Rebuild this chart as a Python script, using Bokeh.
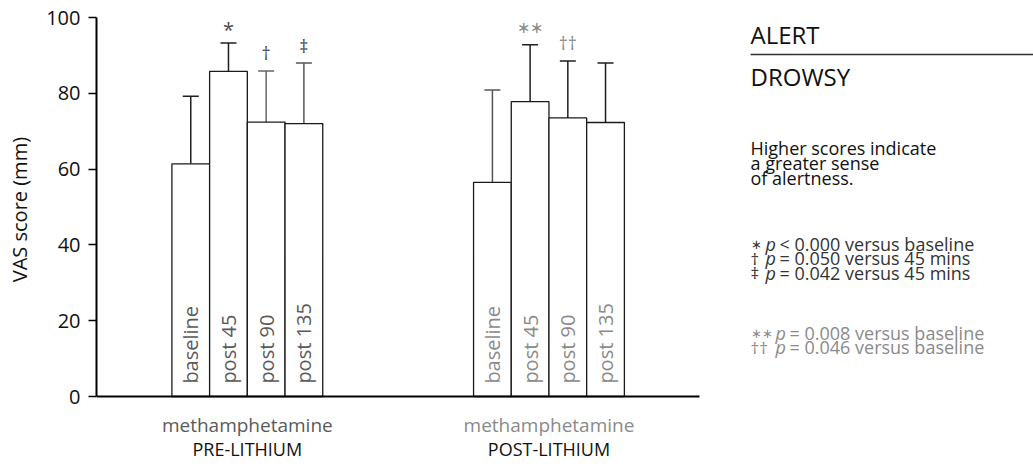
import math
from bokeh.plotting import figure
from bokeh.layouts import row
from bokeh.models import ColumnDataSource, Range1d, FixedTicker
from bokeh.core.properties import value
from bokeh.embed import file_html
from bokeh.resources import INLINE

# ---------------- data ----------------
groups = ["PRE-LITHIUM", "POST-LITHIUM"]
drug = ["methamphetamine", "methamphetamine"]
timepoints = ["baseline", "post  45", "post  90", "post  135"]
pre_mean = [61.4, 85.8, 72.4, 72.0]
pre_err = [17.8, 7.5, 13.5, 16.0]
post_mean = [56.5, 77.8, 73.5, 72.3]
post_err = [24.4, 15.0, 15.0, 15.7]
pre_marks = ["", "*", "\u2020", "\u2021"]
post_marks = ["", "\u2217\u2217", "\u2020\u2020", ""]
y_ticks = [0, 20, 40, 60, 80, 100]
y_title = "VAS score  (mm)"
scale_top = "ALERT"
scale_bottom = "DROWSY"
note_lines = ["Higher scores indicate", "a greater sense", "of alertness."]
sig_dark = [("\u2217", "< 0.000 versus baseline"),
            ("\u2020", "= 0.050 versus 45 mins"),
            ("\u2021", "= 0.042 versus 45 mins")]
sig_grey = [("\u2217\u2217", "= 0.008 versus baseline"),
            ("\u2020\u2020", "= 0.046 versus baseline")]

# ---------------- layout helpers ----------------
W, H = 1033, 474
TW = 40                     # width of the strip holding the y title
LEFT = 96                   # x of the y axis on the page
FRAME_W = W - LEFT
X_END = 24.85
PXX = FRAME_W / X_END
Y0_PX, Y100_PX = 396, 17
PXY = (Y0_PX - Y100_PX) / 100.0


def X(px):
    return (px - LEFT) / PXX


def Y(py):
    return (Y0_PX - py) / PXY


FONT = "Open Sans"
group_start = [2, 10]
means = [pre_mean, post_mean]
errs = [pre_err, post_err]
marks = [pre_marks, post_marks]
label_col = ["#5a5a5a", "#8a8a8a"]
mark_col = ["#4a4a4a", "#8a8a8a"]
mark_size = [["18px", "20px", "18px", "18px"], ["16px", "16px", "18px", "16px"]]
mark_off = [[4.6, 3.6, 4.8, 4.6], [4.6, 4.6, 4.8, 4.6]]
err_col = [["#1e1e1e", "#1e1e1e", "#666666", "#555555"],
           ["#555555", "#1e1e1e", "#1e1e1e", "#1e1e1e"]]

xs, tops, uppers, labs, lcols, mks, mcols, ecols, msz, mky = [], [], [], [], [], [], [], [], [], []
for g in range(2):
    for i, tp in enumerate(timepoints):
        xs.append(group_start[g] + i + 0.5)
        tops.append(means[g][i])
        up = means[g][i] + errs[g][i]
        uppers.append(up)
        labs.append(tp)
        lcols.append(label_col[g])
        mks.append(marks[g][i])
        mcols.append(mark_col[g])
        ecols.append(err_col[g][i])
        msz.append(mark_size[g][i])
        mky.append(up + mark_off[g][i])

src = ColumnDataSource(dict(x=xs, top=tops, upper=uppers, lab=labs, lcol=lcols,
                            mk=mks, mcol=mcols, ecol=ecols, msz=msz,
                            laby=[3.4] * len(xs), mky=mky))

# ---- strip with the y-axis title ----
t = figure(width=TW, height=H, output_backend="svg", toolbar_location=None,
           x_range=Range1d(0, TW), y_range=Range1d(H, 0), tools="",
           min_border_left=0, min_border_right=0, min_border_top=0, min_border_bottom=0)
t.axis.visible = False
t.grid.visible = False
t.outline_line_color = None
t.background_fill_color = "white"
t.border_fill_color = "white"
t.text(x=[19], y=[(Y0_PX + Y100_PX) / 2], text=[y_title], angle=math.pi / 2,
       text_align="center", text_baseline="middle", text_font=value(FONT),
       text_font_size="20px", text_color="#111111")

# ---- main chart ----
p = figure(width=W - TW, height=H, output_backend="svg", toolbar_location=None,
           x_range=Range1d(0, X_END),
           y_range=Range1d(Y(H), Y(0)),
           min_border_left=LEFT - TW, min_border_right=0, min_border_top=0,
           min_border_bottom=0, tools="")
p.outline_line_color = None
p.grid.visible = False
p.background_fill_color = "white"
p.border_fill_color = "white"

ya = p.yaxis[0]
ya.bounds = (0, 100)
ya.ticker = FixedTicker(ticks=y_ticks)
ya.minor_tick_line_color = None
ya.major_tick_in = 0
ya.major_tick_out = 8
ya.major_tick_line_width = 1.5
ya.major_tick_line_color = "black"
ya.axis_line_width = 2
ya.axis_line_color = "black"
ya.major_label_text_font = FONT
ya.major_label_text_font_size = "20px"
ya.major_label_text_color = "#111111"
ya.major_label_standoff = 8

xa = p.xaxis[0]
xa.fixed_location = 0
xa.bounds = (0, 16)
xa.ticker = FixedTicker(ticks=[])
xa.axis_line_width = 2
xa.axis_line_color = "black"
xa.major_tick_line_color = None
xa.minor_tick_line_color = None
xa.major_tick_out = 0
xa.major_tick_in = 0

# error bars
p.segment(x0="x", y0="top", x1="x", y1="upper", line_color="ecol", line_width=1.5, source=src)
p.scatter(x="x", y="upper", marker="dash", size=16, line_color="ecol", line_width=1.5, source=src)

# bars
p.vbar(x="x", top="top", bottom=0, width=1.0, fill_color="white",
       line_color="#1a1a1a", line_width=1.3, source=src)

# labels inside bars
p.text(x="x", y="laby", text="lab", angle=math.pi / 2, text_align="left",
       text_baseline="middle", text_font=value(FONT), text_font_size="20px",
       text_color="lcol", source=src)

# significance marks
p.text(x="x", y="mky", text="mk", text_align="center", text_baseline="middle",
       text_font=value(FONT), text_font_size="msz", text_color="mcol", source=src)

# group labels
gsrc = ColumnDataSource(dict(
    x=[s + 2 for s in group_start], drug=drug, grp=groups, dcol=label_col,
    dy=[Y(424)] * 2, gy=[Y(448)] * 2))
p.text(x="x", y="dy", text="drug", text_align="center", text_baseline="middle",
       text_font=value(FONT), text_font_size="19px", text_color="dcol", source=gsrc)
p.text(x="x", y="gy", text="grp", text_align="center", text_baseline="middle",
       text_font=value(FONT), text_font_size="18px", text_color="#111111", source=gsrc)

# right panel
RX = X(750)
p.text(x=[RX, RX], y=[Y(34), Y(76)], text=[scale_top, scale_bottom],
       text_align="left", text_baseline="middle", text_font=value(FONT),
       text_font_size="24px", text_color="#111111")
p.segment(x0=[RX], y0=[Y(54)], x1=[X_END], y1=[Y(54)], line_color="#333333", line_width=1.5)

p.text(x=[RX] * 3, y=[Y(147), Y(162), Y(177)], text=note_lines,
       text_align="left", text_baseline="middle", text_font=value(FONT),
       text_font_size="18px", text_color="#111111")


def sig_block(items, center_px, color, p_px, rest_px):
    n = len(items)
    ys = [Y(center_px + 14.5 * k) for k in range(n)]
    sizes = ["13px" if "\u2217" in s else "17px" for s, _ in items]
    p.text(x=[RX] * n, y=ys, text=[s for s, _ in items], text_align="left",
           text_baseline="middle", text_font=value(FONT), text_font_size=sizes,
           text_color=color)
    p.text(x=[X(p_px)] * n, y=ys, text=["p"] * n, text_align="left",
           text_baseline="middle", text_font=value(FONT), text_font_size="18px",
           text_font_style="italic", text_color=color)
    p.text(x=[X(rest_px)] * n, y=ys, text=[r for _, r in items], text_align="left",
           text_baseline="middle", text_font=value(FONT), text_font_size="18px",
           text_color=color)


sig_block(sig_dark, 243, "#333333", 765, 779)
sig_block(sig_grey, 332, "#8a8a8a", 775, 789)

open("out.html", "w").write(file_html(row(t, p, spacing=0), INLINE))
